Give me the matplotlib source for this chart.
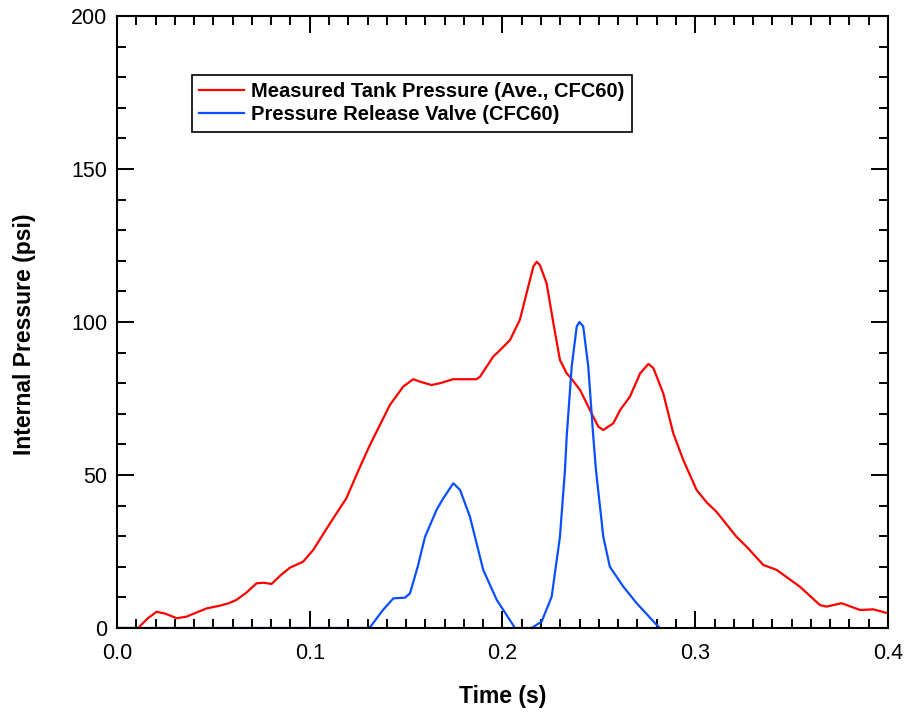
import matplotlib.pyplot as plt
from matplotlib.ticker import MultipleLocator

plt.rcParams["font.family"] = ["Liberation Sans", "DejaVu Sans"]

# measured tank pressure (red)
tank_t = [0.0, 0.011, 0.016, 0.0206, 0.025, 0.031, 0.036, 0.041, 0.0465, 0.0534,
          0.058, 0.062, 0.067, 0.0724, 0.076, 0.0802, 0.085, 0.0897, 0.0966, 0.1018,
          0.1105, 0.119, 0.1261, 0.131, 0.1347, 0.1416, 0.1485, 0.1537, 0.1572, 0.1632,
          0.1676, 0.1744, 0.1865, 0.1883, 0.1952, 0.1987, 0.2039, 0.2056, 0.209, 0.2125,
          0.216, 0.2177, 0.2194, 0.2229, 0.2264, 0.2298, 0.2333, 0.235, 0.2402, 0.2437,
          0.2471, 0.2497, 0.2523, 0.2575, 0.261, 0.2661, 0.2714, 0.2757, 0.2783, 0.2834,
          0.2886, 0.2938, 0.3007, 0.306, 0.311, 0.3214, 0.3266, 0.3353, 0.3422, 0.3543,
          0.3647, 0.3682, 0.3759, 0.3855, 0.3924, 0.4]
tank_p = [0, 0, 3.2, 5.3, 4.7, 3.2, 3.7, 5.0, 6.4, 7.3,
          8.1, 9.2, 11.5, 14.6, 14.8, 14.4, 17.3, 19.7, 21.7, 25.5,
          34.2, 42.4, 52.7, 59.5, 64.2, 72.9, 78.9, 81.3, 80.5, 79.4,
          80, 81.3, 81.3, 82.1, 88.7, 90.8, 94.1, 96.3, 100.7, 109.4,
          118.1, 119.7, 118.6, 112.6, 99.6, 87.6, 83.2, 82.1, 77.8, 73.4,
          69, 65.8, 64.7, 66.9, 71.2, 75.6, 83.2, 86.3, 84.9, 76.7,
          63.6, 54.9, 45.1, 41, 38, 29.8, 26.6, 20.6, 19, 13.5,
          7.5, 7, 8.1, 5.9, 6.1, 4.8]

# pressure release valve (blue)
valve_t = [0.0, 0.131, 0.138, 0.1434, 0.1494, 0.152, 0.156, 0.1598, 0.1658, 0.1693,
           0.1745, 0.178, 0.1831, 0.19, 0.197, 0.2065, 0.2151, 0.2203, 0.2255, 0.2298,
           0.2324, 0.2333, 0.2359, 0.2385, 0.2399, 0.2419, 0.2445, 0.2471, 0.2485, 0.2523,
           0.2557, 0.2627, 0.2696, 0.28, 0.2817]
valve_p = [0, 0, 5.9, 9.7, 9.9, 11.3, 20, 29.8, 38.6, 42.4,
           47.3, 45.1, 36.4, 19, 9.2, 0, 0, 2.1, 10.2, 29.8,
           51.6, 62.5, 85.4, 98.5, 100, 98.5, 85.4, 62.5, 51.6, 29.8,
           20, 13.5, 8.1, 1, 0]

fig = plt.figure(figsize=(9.09, 7.13), dpi=100)
ax = fig.add_axes([0.1287, 0.1192, 0.8482, 0.8584])

ax.plot(tank_t, tank_p, color="#ff0000", lw=1.6, solid_joinstyle="round",
        label="Measured Tank Pressure (Ave., CFC60)")
ax.plot(valve_t, valve_p, color="#0a4fff", lw=1.6, solid_joinstyle="round",
        label="Pressure Release Valve (CFC60)")

ax.set_xlim(0, 0.4)
ax.set_ylim(0, 200)
ax.xaxis.set_major_locator(MultipleLocator(0.1))
ax.xaxis.set_minor_locator(MultipleLocator(0.01))
ax.yaxis.set_major_locator(MultipleLocator(50))
ax.yaxis.set_minor_locator(MultipleLocator(10))
ax.xaxis.set_major_formatter(plt.FuncFormatter(lambda v, p: f"{v:.1f}"))

ax.tick_params(which="both", direction="in", top=True, right=True, width=1.4,
               labelsize=15.5, colors="black")
ax.tick_params(which="major", length=12)
ax.tick_params(axis="x", which="major", pad=11)
ax.tick_params(axis="y", which="major", pad=7)
ax.tick_params(which="minor", length=6.5)
for s in ax.spines.values():
    s.set_linewidth(1.5)

ax.set_xlabel("Time (s)", fontsize=16.5, fontweight="bold", labelpad=15)
ax.set_ylabel("Internal Pressure (psi)", fontsize=16.5, fontweight="bold",
              labelpad=25, y=0.48)

leg = ax.legend(loc="upper left", bbox_to_anchor=(0.097, 0.904), fancybox=False,
                framealpha=1, edgecolor="black", handlelength=2.2,
                prop={"weight": "bold", "size": 14.5}, borderpad=0.38,
                labelspacing=0.2, handletextpad=0.35, borderaxespad=0)
leg.get_frame().set_linewidth(1.2)

fig.savefig("out.png", dpi=100)
